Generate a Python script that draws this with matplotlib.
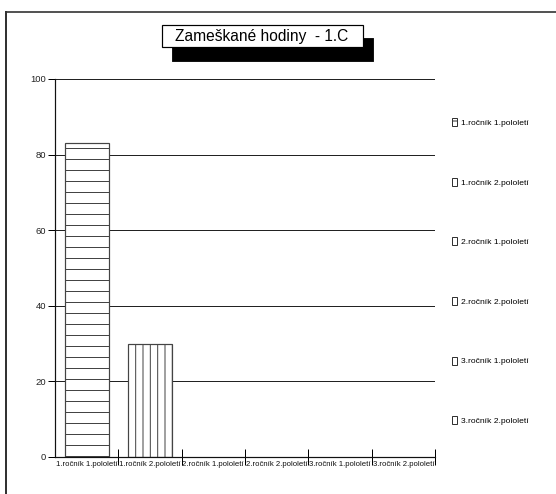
import matplotlib
matplotlib.use("Agg")
import matplotlib.pyplot as plt
from matplotlib.patches import Rectangle
from matplotlib.lines import Line2D

DPI = 132
W, H = 556, 494

def pt(px):
    return px * 72.0 / DPI

def fx(x):
    return x / W

def fy(y):
    return 1 - y / H

categories = ["1.ročník 1.pololetí", "1.ročník 2.pololetí", "2.ročník 1.pololetí",
              "2.ročník 2.pololetí", "3.ročník 1.pololetí", "3.ročník 2.pololetí"]
hours = [83, 30, 0, 0, 0, 0]
hatches = ["--", "|||", "", "", "", ""]
yticks = [0, 20, 40, 60, 80, 100]
title = "Zameškané hodiny  - 1.C"

plt.rcParams["font.family"] = ["Liberation Sans", "DejaVu Sans"]
plt.rcParams["hatch.linewidth"] = pt(1.0)

fig = plt.figure(figsize=(W / DPI, H / DPI), dpi=DPI)
fig.patch.set_facecolor("white")

ax = fig.add_axes([fx(55), fy(457), fx(435) - fx(55), fy(79) - fy(457)])
ax.set_xlim(-0.5, len(categories) - 0.5)
ax.set_ylim(0, 100)

# horizontal grid lines at each tick value
for v in yticks[1:]:
    ax.axhline(v, color="#222222", lw=pt(1.0), zorder=1)

x = list(range(len(categories)))
for i, (v, h) in enumerate(zip(hours, hatches)):
    if v > 0:
        ax.bar(x[i], v, width=0.7, facecolor="white", edgecolor="#444444",
               hatch=h, linewidth=pt(1.2), zorder=2)

for s in ["top", "right"]:
    ax.spines[s].set_visible(False)
for s in ["left", "bottom"]:
    ax.spines[s].set_linewidth(pt(1.2))
    ax.spines[s].set_color("#111111")

ax.set_yticks(yticks)
ax.set_yticklabels([str(t) for t in yticks], fontsize=pt(9.5), color="#222222")
ax.tick_params(axis="y", length=pt(7), width=pt(1.0), pad=pt(2))

ax.set_xticks(x)
ax.set_xticklabels(categories, fontsize=pt(7.8), color="#111111")
ax.tick_params(axis="x", which="major", length=0, pad=pt(4))
ax.set_xticks([i + 0.5 for i in x], minor=True)
ax.tick_params(axis="x", which="minor", length=pt(16), direction="inout", width=pt(1.0))

# outer frame lines
fig.add_artist(Line2D([fx(6), 1], [fy(12), fy(12)], color="#555555", lw=pt(2), transform=fig.transFigure))
fig.add_artist(Line2D([fx(6), fx(6)], [fy(12), 0], color="#333333", lw=pt(2), transform=fig.transFigure))

# title box with drop shadow
fig.add_artist(Rectangle((fx(173), fy(61)), fx(373) - fx(173), fy(39) - fy(61),
                         facecolor="black", edgecolor="black", transform=fig.transFigure))
fig.add_artist(Rectangle((fx(162), fy(47)), fx(363) - fx(162), fy(25) - fy(47),
                         facecolor="white", edgecolor="black", lw=pt(1.2), transform=fig.transFigure))
fig.text(fx(262), fy(37), title, ha="center", va="center", fontsize=pt(15.5), color="black")

# legend
handles = [Rectangle((0, 0), 1, 1, facecolor="white", edgecolor="#333333", hatch=("-" if h else ""),
                     linewidth=pt(1.0)) for h in hatches]
fig.legend(handles, categories, loc="upper left", bbox_to_anchor=(fx(452), fy(118)),
           frameon=False, fontsize=pt(8.5), handlelength=0.6, handleheight=1.1,
           handletextpad=0.5, labelspacing=5.96, borderpad=0, borderaxespad=0)

fig.savefig("out.png", dpi=DPI, facecolor="white")
